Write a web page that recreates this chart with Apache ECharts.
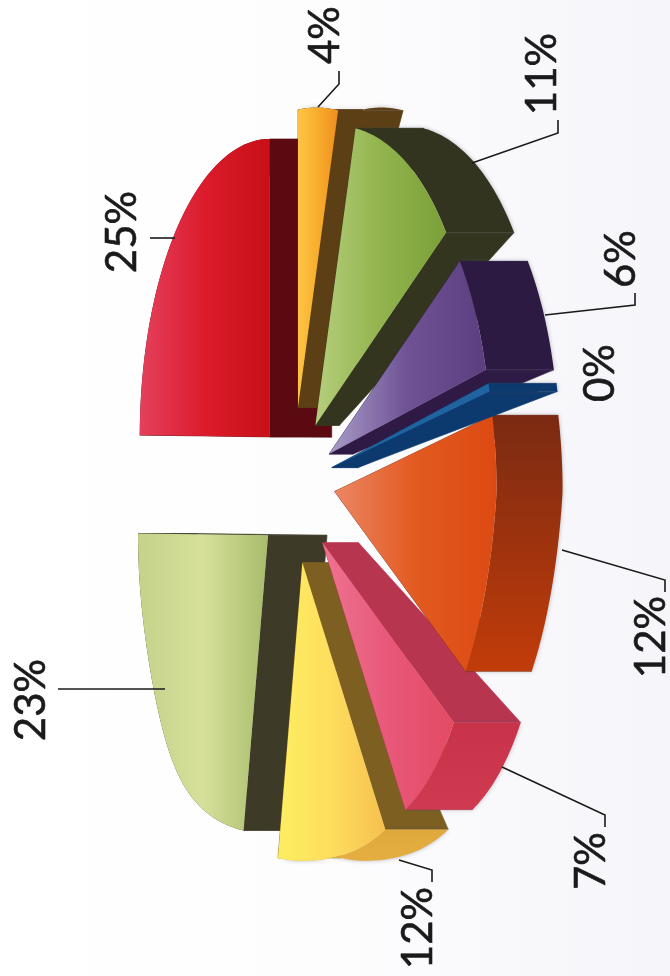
<!DOCTYPE html>
<html><head><meta charset="utf-8">
<style>html,body{margin:0;padding:0;background:#fff}#c{width:670px;height:976px}</style>
<script src="https://cdn.jsdelivr.net/npm/echarts@6/dist/echarts.min.js"></script>
</head><body><div id="c"></div>
<script>
// Data, going counter-clockwise from the top of the rotated pie
var sliceNames = ['Red','Pale green','Yellow','Pink','Orange','Blue','Purple','Green','Amber'];
var sliceValues = [25, 23, 12, 7, 12, 0.4, 6, 11, 4];
// Styles
var faceColors = [
 ['#e4405c','#dc1b2c','#c80f17'],['#c4d28a','#d6e09a','#a8bc6c'],['#fdee62','#fedd5e','#f6c04e'],
 ['#ee7390','#e8587a','#e44a62'],['#ec8664','#e25a20','#dc4a12'],['#1f639f','#1f639f','#1f639f'],
 ['#a99cc8','#6e5294','#5a3e80'],['#b6ce7c','#92b44e','#7ba038'],['#fdc445','#f8ad2e','#ee8e1c']];
var radialWall = ['#5a0a10','#3e3a28','#7d5f22','#b83550','#7a2a12','#0d3a6e','#2e1a44','#34351f','#5c3f14'];
var arcWallTop = ['#5a0a10','#3e3a28','#dfa93c','#c9334a','#7a2a12','#0d3a6e','#2c1a42','#33341f','#5c3f14'];
var arcWallEnd = ['#5a0a10','#3e3a28','#e6ae40','#cf3a50','#c23c0a','#0d3a6e','#2c1a42','#33341f','#5c3f14'];
var drawRank = [0,0,1,2,3,4,3,2,1];
var apexDepth = [62,59,30,36,20,26,24,24,27];
var outerDepth = [62,59,63,67,66,68,68,68,65];
var explodeNudge = [[0,3],[0,-2],[0,0],[0,4],[2,-5],[0,0],[0,0],[0,0],[0,-6]];
var labelPos = [[122,232],[31,700],[418,928],[591,861],[651,637],[600,373],[621,259],[542,74],[325,35]];
var leaders = [[[150,238],[175,238]],[[58,689],[165,689]],[[399,860],[432,870],[432,882]],
 [[502,767],[605,815],[605,827]],[[562,550],[665,580],[665,592]],null,[[545,315],[635,305],[635,293]],
 [[472,163],[558,133],[558,120]],[[318,107],[339,84],[339,71]]];

var total = sliceValues.reduce(function(a,b){return a+b;},0);
var startFrac = [], acc = 0;
sliceValues.forEach(function(v){ startFrac.push(acc/total); acc += v; });

function dir(f){ var t = f*2*Math.PI; return [-Math.sin(t), -Math.cos(t)]; }
function arcPoint(a, f){
  var d = dir(f), rx, ry, sx = Math.max(d[0],0);
  if (d[0] < 0) rx = 130 + (d[1] > 0 ? 50*Math.pow(d[1],4) : 0);
  else rx = d[1] > 0 ? 162 - 22*d[1] : 162;
  if (d[1] < 0) ry = 298 + 35*sx;
  else ry = 298 + 85*sx*sx;
  return [a[0] + rx*d[0], a[1] + ry*d[1]];
}
function apexOf(i, f0, f1){
  var d = dir((f0+f1)/2);
  return [293 + d[0]*(d[0]<0?33:40) + explodeNudge[i][0], 485 + d[1]*(d[1]<0?72:80) + explodeNudge[i][1]];
}
function grad(c){
  return new echarts.graphic.LinearGradient(0,0,1,0,[{offset:0,color:c[0]},{offset:.5,color:c[1]},{offset:1,color:c[2]}]);
}
function renderSlice(params, api){
  var i = params.dataIndex, v = api.value(0);
  var f0 = startFrac[i], f1 = f0 + v/total;
  var a = apexOf(i,f0,f1), arc = [], n = 48;
  for (var k=0;k<=n;k++) arc.push(arcPoint(a, f0+(f1-f0)*k/n));
  var t = outerDepth[i], ta = apexDepth[i];
  var shift = function(p){ return [p[0]+t, p[1]]; };
  var z = drawRank[i]*10+10;
  var kids = [];
  var endWall = function(p){ return [a, [a[0]+ta,a[1]], shift(p), p]; };
  var onRight = dir((f0+f1)/2)[0] > 0;
  var soft = onRight ? {shadowBlur:4,shadowColor:'rgba(70,70,85,0.4)'} : {};
  var wallStyle = function(c){ return {fill:c,stroke:c,lineWidth:0.6}; };
  kids.push({type:'polygon',z2:z,shape:{points:endWall(arc[0])},style:wallStyle(radialWall[i])});
  kids.push({type:'polygon',z2:z,shape:{points:endWall(arc[n])},style:wallStyle(radialWall[i])});
  var arcFill = new echarts.graphic.LinearGradient(0,0,0,1,[{offset:0,color:arcWallTop[i]},{offset:1,color:arcWallEnd[i]}]);
  kids.push({type:'polygon',z2:z+1,shape:{points:arc.concat(arc.map(shift).reverse())},
    style:Object.assign({fill:arcFill},soft)});
  kids.push({type:'polygon',z2:z+2,shape:{points:[a].concat(arc)},style:{fill:grad(faceColors[i])}});
  if (leaders[i]) kids.push({type:'polyline',z2:100,shape:{points:leaders[i]},style:{fill:null,stroke:'#1a1a1a',lineWidth:1.6}});
  kids.push({type:'text',z2:100,x:labelPos[i][0],y:labelPos[i][1],rotation:Math.PI/2,
    style:{text:Math.round(v)+'%',x:0,y:0,align:'center',verticalAlign:'middle',fill:'#1a1a1a',
      stroke:'#1a1a1a',lineWidth:0.6,font:'42px Lato, "Open Sans", sans-serif'}});
  return {type:'group',children:kids};
}
var chart = echarts.init(document.getElementById('c'), null, {renderer:'canvas'});
chart.setOption({
  animation:false,
  backgroundColor:new echarts.graphic.LinearGradient(0,0,1,0,[{offset:0,color:'#ffffff'},{offset:.5,color:'#fdfdfe'},{offset:1,color:'#f5f5fa'}]),
  series:[{type:'custom',coordinateSystem:'none',silent:true,clip:false,
    data:sliceValues.map(function(v,i){return {name:sliceNames[i],value:[v]};}),
    renderItem:renderSlice}]
});
</script></body></html>
